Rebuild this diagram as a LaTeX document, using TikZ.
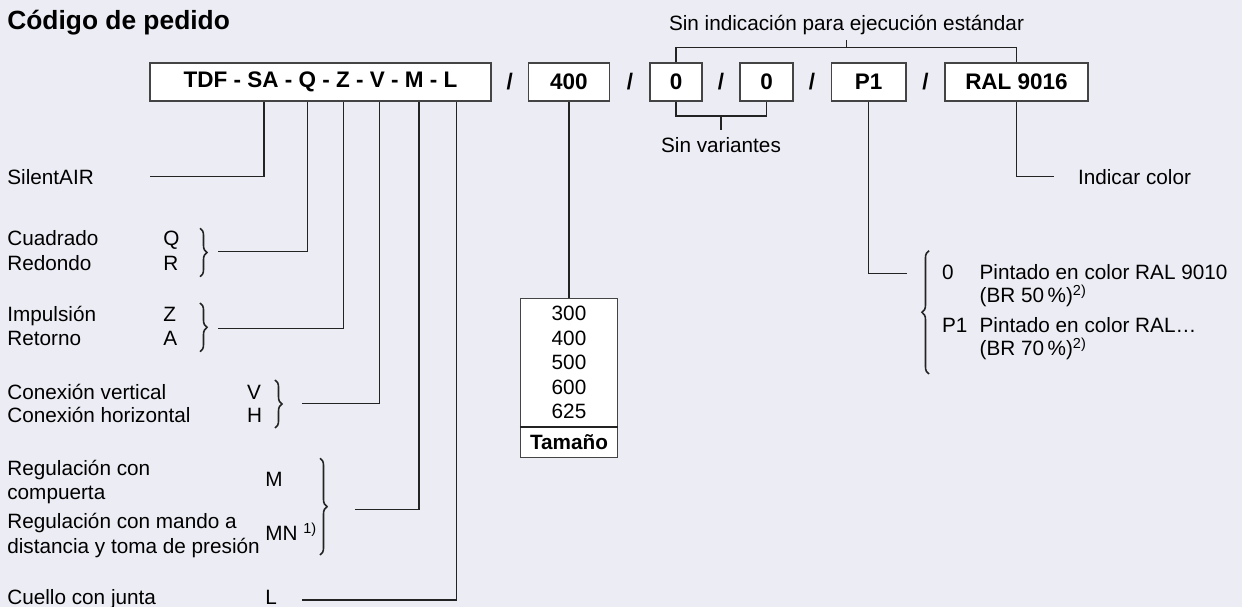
\documentclass[tikz,border=0pt]{standalone}
\usepackage{fontspec}
\setmainfont{Liberation Sans}
\usetikzlibrary{decorations.pathreplacing}

\definecolor{paper}{RGB}{236,236,244}
\definecolor{ink}{RGB}{35,35,35}

\tikzset{
  codebox/.style={draw=ink!85, line width=0.8pt, fill=white, minimum height=0.76cm,
    inner sep=0pt, font=\fontsize{12.8}{14}\selectfont\bfseries},
  slash/.style={inner sep=0pt, font=\fontsize{12.8}{14}\selectfont\bfseries},
  lbl/.style={anchor=base west, inner sep=0pt, font=\fontsize{11.8}{13.9}\selectfont},
  link/.style={draw=ink, line width=0.6pt},
  bracemark/.style={draw=ink, line width=0.9pt, decorate, decoration={brace, amplitude=4pt}},
}

\begin{document}
\begin{tikzpicture}[x=0.02cm,y=-0.02cm]
        \fill[paper] (0,0) rectangle (1242,607);
        \useasboundingbox (0,0) rectangle (1242,607);
        \node[anchor=base west, inner sep=0pt, font=\fontsize{15}{18}\selectfont\bfseries] (Title) at (7,30) {Código de pedido};
        % code boxes
        \node[codebox, minimum width=6.82cm] (Code) at (320.5,82) {TDF - SA - Q - Z - V - M - L};
        \node[codebox, minimum width=1.63cm] (Size) at (569,82) {400};
        \node[codebox, minimum width=1.04cm] (VarA) at (676,82) {0};
        \node[codebox, minimum width=1.06cm] (VarB) at (766.5,82) {0};
        \node[codebox, minimum width=1.49cm] (Paint) at (868.7,82) {P1};
        \node[codebox, minimum width=2.86cm] (Col) at (1016.5,82) {RAL 9016};
        \foreach \n/\x in {S1/509.7, S2/630, S3/721, S4/812, S5/925.5}
            \node[slash] (\n) at (\x,82) {/};
        % top and bottom brackets
        \node[lbl, anchor=base] (Std) at (846.5,31) {Sin indicación para ejecución estándar};
        \coordinate (std) at (846.5,47.3);
        \draw[link] (VarA.north) |- (std) -| (Col.north);
        \draw[link] (std) -- ++(0,-7.5);
        \node[lbl, anchor=base] (NoVar) at (721,153) {Sin variantes};
        \coordinate (nv) at (721,116);
        \draw[link] (VarA.south) |- (nv) -| (VarB.south);
        \draw[link] (nv) -- ++(0,14);
        % letter positions
        \foreach \n/\x in {sa/264, q/307.7, z/343.3, v/379.3, m/419, l/456.7}
            \coordinate (\n) at (\x,0);
        % left labels
        \node[lbl] (Silent) at (7,185) {SilentAIR};
        \foreach \t/\k/\y/\n in {Cuadrado/Q/246/Q1, Redondo/R/270.5/Q2, Impulsión/Z/321.7/Z1, Retorno/A/346/Z2}{
            \node[lbl] (\n) at (7,\y) {\t};
            \node[lbl] (\n k) at (163,\y) {\k};
        }
        \node[lbl] (V1) at (7,399.3) {Conexión vertical};
        \node[lbl] (V1k) at (246.7,399.3) {V};
        \node[lbl] (V2) at (7,422.7) {Conexión horizontal};
        \node[lbl] (V2k) at (246.7,422.7) {H};
        \node[lbl] (M1a) at (7,475.7) {Regulación con};
        \node[lbl] (M1b) at (7,500) {compuerta};
        \node[lbl] (M1k) at (265,486.7) {M};
        \node[lbl] (M2a) at (7,528.3) {Regulación con mando a};
        \node[lbl] (M2b) at (7,553.3) {distancia y toma de presión};
        \node[lbl] (M2k) at (265,540.7) {MN \textsuperscript{1)}};
        \node[lbl] (L1) at (7,605) {Cuello con junta};
        \node[lbl] (L1k) at (265,605) {L};
        % braces
        \draw[bracemark] (200,228.3) -- (200,276.7);
        \draw[bracemark] (200,303) -- (200,351.7);
        \draw[bracemark] (275,380) -- (275,428);
        \draw[bracemark] (320,458.3) -- (320,555);
        \draw[bracemark] (929,374) -- (929,250.7);
        % connectors from the code box
        \coordinate (sae) at (150,176.7);
        \coordinate (qe) at (218,251.7);
        \coordinate (ze) at (218,328.3);
        \coordinate (ve) at (301.7,403.3);
        \coordinate (me) at (355,509.3);
        \coordinate (le) at (301.7,600);
        \foreach \n in {sa,q,z,v,m,l}
            \draw[link] (Code.south -| \n) |- (\n e);
        % size table
        \node[draw=ink!85, line width=0.6pt, fill=white, minimum width=1.946cm, minimum height=2.554cm,
            anchor=north, align=center, inner sep=0pt, font=\fontsize{11.8}{13.9}\selectfont] (Sizes) at (569,298.3)
            {300\\400\\500\\600\\625};
        \node[draw=ink!85, line width=0.6pt, fill=white, minimum width=1.946cm, minimum height=0.594cm,
            anchor=north, inner sep=0pt, font=\fontsize{11.8}{13.9}\selectfont\bfseries] (SizeHead) at (Sizes.south) {Tamaño};
        \draw[ink, line width=1.5pt] (Sizes.south west) -- (Sizes.south east);
        \draw[link] (Size.south) -- (Sizes.north);
        % paint and colour
        \coordinate (pe) at (906.7,273.3);
        \draw[link] (Paint.south) |- (pe);
        \node[lbl] (P0) at (941.7,280) {0};
        \node[lbl] (P0a) at (979.3,280) {Pintado en color RAL 9010};
        \node[lbl] (P0b) at (979.3,303) {(BR 50\,\%)\textsuperscript{2)}};
        \node[lbl] (P1) at (941.7,332.7) {P1};
        \node[lbl] (P1a) at (979.3,332.7) {Pintado en color RAL\ldots};
        \node[lbl] (P1b) at (979.3,356) {(BR 70\,\%)\textsuperscript{2)}};
        \coordinate (ce) at (1054,176.3);
        \draw[link] (Col.south) |- (ce);
        \node[lbl] (ColTxt) at (1077.7,185) {Indicar color};
    \end{tikzpicture}
\end{document}
